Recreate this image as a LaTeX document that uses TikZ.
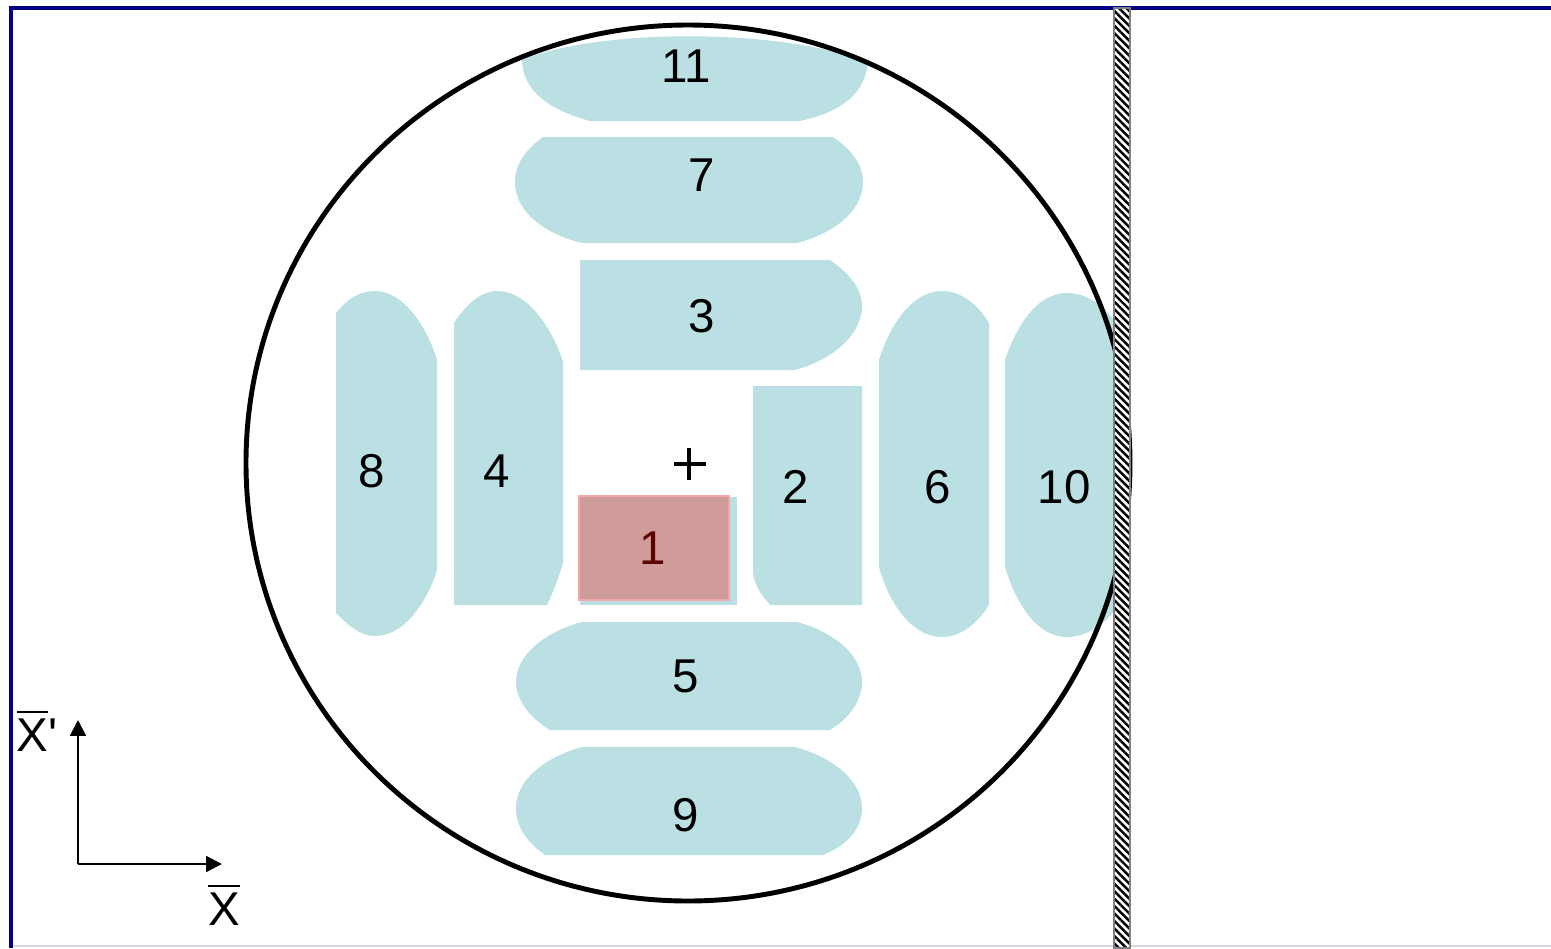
\documentclass[tikz,border=0pt]{standalone}
\usepackage{amsmath}
\usepackage{fontspec}
\setmainfont{Liberation Sans}
\usetikzlibrary{arrows.meta,patterns.meta}

\definecolor{padblue}{HTML}{BAE0E3}
\definecolor{hotpad}{HTML}{CF9B9B}
\definecolor{hotedge}{HTML}{F2A8A8}
\definecolor{hottext}{HTML}{5A0000}
\definecolor{frameblue}{HTML}{000080}
\definecolor{framelow}{HTML}{D8D4E8}

\begin{document}
\begin{tikzpicture}[x=0.01cm,y=-0.01cm,>={Triangle[length=4.5pt,width=4.5pt]},
  pad/.style={fill=padblue},
  num/.style={font=\fontsize{13.5}{16}\selectfont,inner sep=0pt},
  ax/.style={->,line width=0.6pt}]
\useasboundingbox (0,0) rectangle (1551,948);
% frame
\draw[framelow,line width=0.4pt] (10,946) -- (1551,946);
\draw[frameblue,line width=1.1pt] (11,948) -- (11,8) -- (1551,8);
% pads
\fill[pad] (522,60) .. controls (600,28) and (780,28) .. (868,62) .. controls (865,95) and (840,112) .. (800,121) -- (590,121) .. controls (550,110) and (523,92) .. (522,60) -- cycle;
\fill[pad] (543,137) -- (833,137) .. controls (852,150) and (863,165) .. (863,182) .. controls (863,212) and (832,234) .. (797,243) -- (582,243) .. controls (545,234) and (515,212) .. (515,182) .. controls (515,165) and (525,150) .. (543,137) -- cycle;
\fill[pad] (580,260) -- (830,260) .. controls (850,274) and (862,289) .. (862,306) .. controls (862,335) and (832,360) .. (795,370) -- (580,370) -- cycle;
\fill[pad] (336,313) .. controls (348,298) and (360,291) .. (375,291) .. controls (405,291) and (428,330) .. (437,360) -- (437,570) .. controls (428,600) and (405,636) .. (375,636) .. controls (360,636) and (348,625) .. (336,613) -- cycle;
\fill[pad] (454,323) .. controls (468,302) and (482,291) .. (498,291) .. controls (528,291) and (553,330) .. (563,362) -- (563,563) .. controls (558,580) and (553,592) .. (547,605) -- (454,605) -- cycle;
\fill[pad] (753,386) -- (862,386) -- (862,605) -- (770,605) .. controls (762,595) and (753,585) .. (753,570) -- cycle;
\fill[pad] (879,360) .. controls (888,330) and (910,291) .. (942,291) .. controls (962,291) and (978,305) .. (989,323) -- (989,605) .. controls (978,622) and (962,637) .. (942,637) .. controls (910,637) and (888,600) .. (879,567) -- cycle;
\fill[pad] (1005,360) .. controls (1015,330) and (1035,293) .. (1067,293) .. controls (1086,293) and (1104,305) .. (1115,322) -- (1115,610) .. controls (1104,625) and (1086,637) .. (1067,637) .. controls (1035,637) and (1015,600) .. (1005,567) -- cycle;
\fill[pad] (582,622) -- (797,622) .. controls (834,632) and (862,655) .. (862,682) .. controls (862,700) and (850,718) .. (830,730) -- (550,730) .. controls (530,718) and (516,700) .. (516,682) .. controls (516,655) and (545,632) .. (582,622) -- cycle;
\fill[pad] (582,747) -- (795,747) .. controls (832,757) and (862,780) .. (862,808) .. controls (862,828) and (848,845) .. (823,855) -- (545,855) .. controls (528,843) and (516,828) .. (516,808) .. controls (516,780) and (545,757) .. (582,747) -- cycle;
\fill[pad] (580,497) rectangle (737,605);
\filldraw[fill=hotpad,draw=hotedge,line width=0.4pt] (579,496) rectangle (729,600);
% circle, centre, wall
\draw[line width=1.4pt] (688,463) ellipse [x radius=442, y radius=438];
\draw[line width=0.9pt] (674,464) -- (706,464) (689,448) -- (689,480);
\fill[white] (1114,8) rectangle (1130,948);
\draw[gray,line width=0.5pt,pattern={Lines[angle=-45,distance=1.5pt,line width=0.7pt]}] (1114,8) rectangle (1130,948);
% numbers
\node[num] (n11) at (686,66) {11};
\node[num] (n7) at (702,175) {7};
\node[num] (n3) at (702,316) {3};
\node[num] (n8) at (372,471) {8};
\node[num] (n4) at (497,471) {4};
\node[num] (n2) at (796,487) {2};
\node[num] (n6) at (938,487) {6};
\node[num] (n10) at (1064,487) {10};
\node[num,text=hottext] (n1) at (653,548) {1};
\node[num] (n5) at (686,676) {5};
\node[num] (n9) at (686,815) {9};
% axes
\coordinate (o) at (78,864);
\coordinate (ytip) at (78,720);
\coordinate (xtip) at (222,864);
\draw[ax] (o) -- (ytip);
\draw[ax] (o) -- (xtip);
\node[num] (xlab) at (224,904) {$\overline{\text{X}}$};
\node[num] (xplab) at (37,730) {$\overline{\text{X}}$\textquotesingle};
\end{tikzpicture}
\end{document}
